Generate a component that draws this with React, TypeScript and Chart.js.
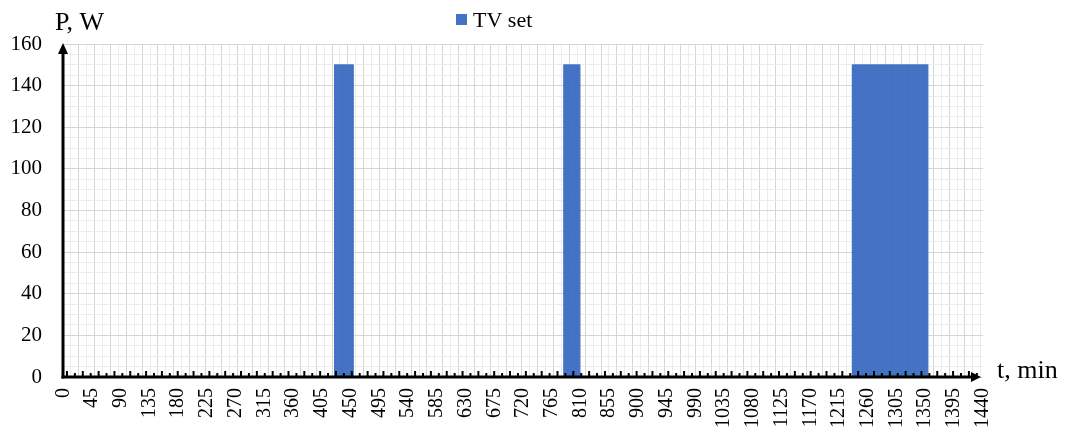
import React, { useEffect, useRef } from 'react';
import { Chart, registerables } from 'chart.js';

Chart.register(...registerables);

// ---- data ----
const seriesName = 'TV set';
const onStartMin = [425, 784, 1236];
const onEndMin = [454, 809, 1354];
const powerW = [150, 150, 150];
const xTickLabels = [0, 45, 90, 135, 180, 225, 270, 315, 360, 405, 450, 495, 540, 585, 630, 675, 720, 765, 810, 855, 900, 945, 990, 1035, 1080, 1125, 1170, 1215, 1260, 1305, 1350, 1395, 1440];
const yTickLabels = [0, 20, 40, 60, 80, 100, 120, 140, 160];
const yAxisTitle = 'P, W';
const xAxisTitle = 't, min';

const FONT = "'Liberation Serif', 'Times New Roman', serif";
const BAR_COLOR = '#4472C4';

const barData: { x: number; y: number }[] = [];
onStartMin.forEach((s, i) => {
  for (let m = s; m <= onEndMin[i]; m++) barData.push({ x: m, y: powerW[i] });
});

const decor = {
  id: 'decor',
  afterDraw(chart: any) {
    const { ctx, chartArea: a, scales } = chart;
    const x = scales.x;
    const y = scales.y;
    const xg = scales.xg;
    const y0 = y.getPixelForValue(0);
    const x0 = x.getPixelForValue(-0.5);
    ctx.save();
    ctx.strokeStyle = '#000';
    ctx.fillStyle = '#000';
    // tick marks (inside)
    ctx.lineWidth = 2;
    xg.ticks.forEach((t: any, i: number) => {
      const px = xg.getPixelForValue(t.value);
      if (px > a.right - 6) return;
      const len = i % 2 === 0 ? 6 : 4;
      ctx.beginPath();
      ctx.moveTo(px, y0);
      ctx.lineTo(px, y0 - len);
      ctx.stroke();
    });
    // x axis with arrow
    ctx.lineWidth = 3;
    const xEnd = a.right - 2;
    ctx.beginPath();
    ctx.moveTo(x0 - 1.5, y0);
    ctx.lineTo(xEnd - 6, y0);
    ctx.stroke();
    ctx.beginPath();
    ctx.moveTo(xEnd, y0);
    ctx.lineTo(xEnd - 10, y0 - 5);
    ctx.lineTo(xEnd - 10, y0 + 5);
    ctx.closePath();
    ctx.fill();
    // y axis with arrow
    const yTop = a.top - 1;
    ctx.beginPath();
    ctx.moveTo(x0, y0 + 1.5);
    ctx.lineTo(x0, yTop + 6);
    ctx.stroke();
    ctx.beginPath();
    ctx.moveTo(x0, yTop);
    ctx.lineTo(x0 - 5, yTop + 11);
    ctx.lineTo(x0 + 5, yTop + 11);
    ctx.closePath();
    ctx.fill();
    // axis titles
    ctx.textBaseline = 'alphabetic';
    ctx.textAlign = 'left';
    ctx.font = `26px ${FONT}`;
    ctx.fillText(yAxisTitle, 55, 30);
    ctx.fillText(xAxisTitle, 997, y0 + 1);
    // legend
    ctx.fillStyle = BAR_COLOR;
    ctx.fillRect(456, 14, 11, 11);
    ctx.fillStyle = '#000';
    ctx.font = `22px ${FONT}`;
    ctx.fillText(seriesName, 473, 27);
    ctx.restore();
  },
};

export default function App() {
  const ref = useRef<HTMLCanvasElement | null>(null);
  useEffect(() => {
    if (!ref.current) return;
    const chart = new Chart(ref.current, {
      type: 'bar',
      data: {
        datasets: [
          {
            label: seriesName,
            data: barData as any,
            backgroundColor: BAR_COLOR,
            borderWidth: 0,
            barPercentage: 1,
            categoryPercentage: 1,
            xAxisID: 'x',
            yAxisID: 'y',
          },
        ],
      },
      options: {
        animation: false,
        responsive: false,
        layout: { padding: { top: 44, right: 90, left: 0, bottom: 0 } },
        plugins: { legend: { display: false }, tooltip: { enabled: false } },
        scales: {
          x: {
            type: 'linear',
            position: 'bottom',
            min: -0.5,
            max: 1440.5,
            offset: false,
            grid: { display: false, drawTicks: false },
            border: { display: false },
            afterBuildTicks: (s: any) => {
              s.ticks = xTickLabels.map((v) => ({ value: v }));
            },
            ticks: {
              autoSkip: false,
              minRotation: 90,
              maxRotation: 90,
              padding: 11,
              color: '#000',
              font: { family: FONT, size: 20 },
              callback: (v: any) => String(v),
            },
            afterFit: (s: any) => {
              s.height = 57;
            },
          },
          xg: {
            type: 'linear',
            position: 'bottom',
            min: -0.5,
            max: 1440.5,
            ticks: { display: false },
            border: { display: false },
            grid: {
              drawTicks: false,
              color: (c: any) => (c.index % 2 === 0 ? '#d6d6d6' : '#ececec'),
              lineWidth: 1,
            },
            afterBuildTicks: (s: any) => {
              const t: any[] = [];
              for (let v = -0.5; v <= 1440.5; v += 12.5) t.push({ value: v });
              s.ticks = t;
            },
            afterFit: (s: any) => {
              s.height = 0;
            },
          },
          y: {
            type: 'linear',
            position: 'left',
            min: 0,
            max: 160,
            ticks: {
              stepSize: 5,
              autoSkip: false,
              padding: 21,
              color: '#000',
              font: { family: FONT, size: 21 },
              callback: (v: any) => (yTickLabels.includes(v) ? String(v) : ''),
            },
            grid: {
              drawTicks: false,
              color: (c: any) => (c.tick && yTickLabels.includes(c.tick.value) ? '#d6d6d6' : '#ececec'),
            },
            border: { display: false },
            afterFit: (s: any) => {
              s.width = 63;
            },
          },
        },
      } as any,
      plugins: [decor],
    });
    return () => chart.destroy();
  }, []);
  return (
    <div style={{ position: 'absolute', left: 0, top: 0, width: 1073, height: 434, background: '#fff' }}>
      <canvas ref={ref} width={1073} height={434} />
    </div>
  );
}
